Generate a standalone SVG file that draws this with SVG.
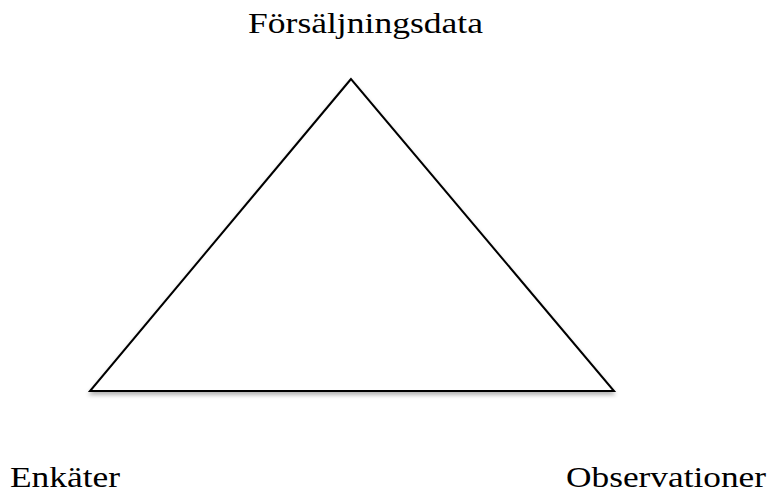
<svg xmlns="http://www.w3.org/2000/svg" width="771" height="496" viewBox="0 0 771 496">
<style>
.lbl{font-family:"Liberation Serif","DejaVu Serif",serif;font-size:30px;fill:#000}
.tri{fill:#fff;stroke:#000;stroke-width:2}
</style>
<defs>
<filter id="sh" x="-10%" y="-10%" width="120%" height="130%">
<feGaussianBlur in="SourceAlpha" stdDeviation="2"/>
<feOffset dx="0" dy="3"/>
<feComponentTransfer><feFuncA type="linear" slope="0.3"/></feComponentTransfer>
<feMerge><feMergeNode/><feMergeNode in="SourceGraphic"/></feMerge>
</filter>
</defs>
<g id="triangle"><polygon class="tri" filter="url(#sh)" points="351,79 90,391 614,391"/></g>
<g id="connectors"></g>
<g id="n-forsaljningsdata"><text class="lbl" x="248" y="33" textLength="235" lengthAdjust="spacingAndGlyphs">Försäljningsdata</text></g>
<g id="n-enkater"><text class="lbl" x="10" y="487" textLength="110" lengthAdjust="spacingAndGlyphs">Enkäter</text></g>
<g id="n-observationer"><text class="lbl" x="566" y="487" textLength="200" lengthAdjust="spacingAndGlyphs">Observationer</text></g>
</svg>
